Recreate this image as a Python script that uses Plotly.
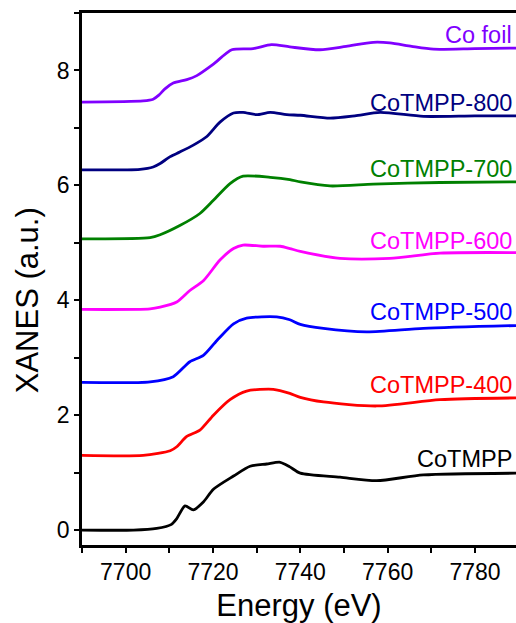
import plotly.graph_objects as go

# Energy (eV) / XANES (a.u.) values (offset curves)
co_foil_x = [7690, 7704.0, 7706.3, 7707.6, 7709.0, 7710.9, 7714.0, 7716.3, 7720.1, 7724.3, 7729.2, 7733.4, 7737.6, 7744.5, 7750.5, 7756.7, 7760.5, 7765.5, 7770.5, 7780.0, 7789.4]
co_foil_y = [7.45, 7.47, 7.50, 7.57, 7.68, 7.78, 7.84, 7.91, 8.11, 8.36, 8.38, 8.45, 8.41, 8.36, 8.42, 8.49, 8.48, 8.42, 8.37, 8.38, 8.39]

c800_x = [7690, 7703.3, 7706.3, 7707.9, 7710.2, 7712.4, 7715.5, 7718.6, 7721.6, 7724.7, 7726.9, 7730.0, 7733.1, 7736.9, 7740.0, 7746.8, 7752.5, 7758.3, 7768.2, 7780.0, 7789.4]
c800_y = [6.27, 6.28, 6.32, 6.38, 6.50, 6.58, 6.70, 6.85, 7.10, 7.26, 7.27, 7.23, 7.27, 7.23, 7.22, 7.17, 7.21, 7.27, 7.20, 7.21, 7.21]

c700_x = [7690, 7705.6, 7707.9, 7712.4, 7717.0, 7720.1, 7723.9, 7726.9, 7733.1, 7737.6, 7740.0, 7746.8, 7756.7, 7772.0, 7789.4]
c700_y = [5.07, 5.09, 5.14, 5.30, 5.51, 5.74, 6.03, 6.16, 6.14, 6.10, 6.06, 5.99, 6.02, 6.05, 6.06]

c600_x = [7690, 7705.6, 7707.9, 7711.7, 7714.7, 7717.8, 7721.6, 7724.7, 7726.9, 7731.5, 7735.4, 7737.6, 7740.0, 7749.1, 7760.5, 7772.0, 7789.4]
c600_y = [3.84, 3.85, 3.88, 3.97, 4.17, 4.34, 4.70, 4.90, 4.96, 4.94, 4.94, 4.90, 4.85, 4.73, 4.73, 4.82, 4.83]

c500_x = [7690, 7705.6, 7710.9, 7714.7, 7717.8, 7720.9, 7724.7, 7727.7, 7734.6, 7737.6, 7740.0, 7745.3, 7755.2, 7768.2, 7789.4]
c500_y = [2.57, 2.58, 2.67, 2.93, 3.04, 3.30, 3.59, 3.69, 3.71, 3.66, 3.58, 3.51, 3.45, 3.51, 3.56]

c400_x = [7690, 7704.0, 7710.2, 7711.7, 7714.0, 7717.0, 7720.1, 7723.9, 7727.7, 7733.8, 7737.6, 7740.0, 7745.3, 7757.5, 7772.0, 7789.4]
c400_y = [1.30, 1.30, 1.38, 1.45, 1.63, 1.74, 2.00, 2.27, 2.42, 2.45, 2.38, 2.31, 2.23, 2.16, 2.27, 2.30]

c_x = [7690, 7701.8, 7707.1, 7710.5, 7711.7, 7713.6, 7715.5, 7717.8, 7720.1, 7724.7, 7728.5, 7732.3, 7735.4, 7737.6, 7740.0, 7749.1, 7757.5, 7768.2, 7789.4]
c_y = [0.00, 0.00, 0.03, 0.10, 0.20, 0.42, 0.35, 0.49, 0.71, 0.94, 1.11, 1.15, 1.18, 1.10, 0.99, 0.92, 0.86, 0.96, 0.99]

names = ["Co foil", "CoTMPP-800", "CoTMPP-700", "CoTMPP-600", "CoTMPP-500", "CoTMPP-400", "CoTMPP"]
colors = ["#8000FF", "#000080", "#008000", "#FF00FF", "#0000FF", "#FF0000", "#000000"]
label_y = [8.61, 7.44, 6.28, 5.04, 3.79, 2.52, 1.23]
series = [(co_foil_x, co_foil_y), (c800_x, c800_y), (c700_x, c700_y), (c600_x, c600_y),
          (c500_x, c500_y), (c400_x, c400_y), (c_x, c_y)]

FONT = "Liberation Sans, Arial, sans-serif"

fig = go.Figure()
for (xs, ys), name, col in zip(series, names, colors):
    fig.add_trace(go.Scatter(x=xs, y=ys, mode="lines", name=name,
                             line=dict(color=col, width=2.8, shape="spline", smoothing=0.7),
                             showlegend=False))

for name, col, ly in zip(names, colors, label_y):
    fig.add_annotation(x=7789.0, y=ly, xref="x", yref="y", text=name, showarrow=False,
                       xanchor="right", yanchor="middle",
                       font=dict(family=FONT, size=23.5, color=col))

# y-axis title (placed as rotated text, slightly below the plot centre as in the reference)
fig.add_annotation(x=0, y=4.0, xref="paper", yref="y", text="XANES (a.u.)", showarrow=False,
                   textangle=-90, xanchor="center", yanchor="middle", xshift=-55,
                   font=dict(family=FONT, size=31, color="black"))

fig.update_layout(
    width=516, height=623,
    margin=dict(l=82, r=0, t=13, b=78),
    paper_bgcolor="white", plot_bgcolor="white",
    font=dict(family=FONT, size=22, color="black"),
)
fig.update_xaxes(
    range=[7690, 7789.4], showgrid=False, zeroline=False,
    showline=True, linecolor="black", linewidth=2.5, mirror=True,
    ticks="outside", ticklen=5, tickwidth=2, tickcolor="black",
    tickvals=[7700, 7720, 7740, 7760, 7780],
    minor=dict(ticks="outside", ticklen=5, tickwidth=2, tickcolor="black", dtick=10, tick0=7690),
    tickfont=dict(family=FONT, size=23),
    title=dict(text="Energy (eV)", font=dict(family=FONT, size=31), standoff=11),
)
fig.update_yaxes(
    range=[-0.26, 9.0], showgrid=False, zeroline=False,
    showline=True, linecolor="black", linewidth=2.5, mirror=False,
    ticks="outside", ticklen=5, tickwidth=2, tickcolor="black",
    tickvals=[0, 2, 4, 6, 8],
    minor=dict(ticks="outside", ticklen=5, tickwidth=2, tickcolor="black", dtick=1, tick0=0),
    tickfont=dict(family=FONT, size=23),
)

fig.write_html("out.html")
